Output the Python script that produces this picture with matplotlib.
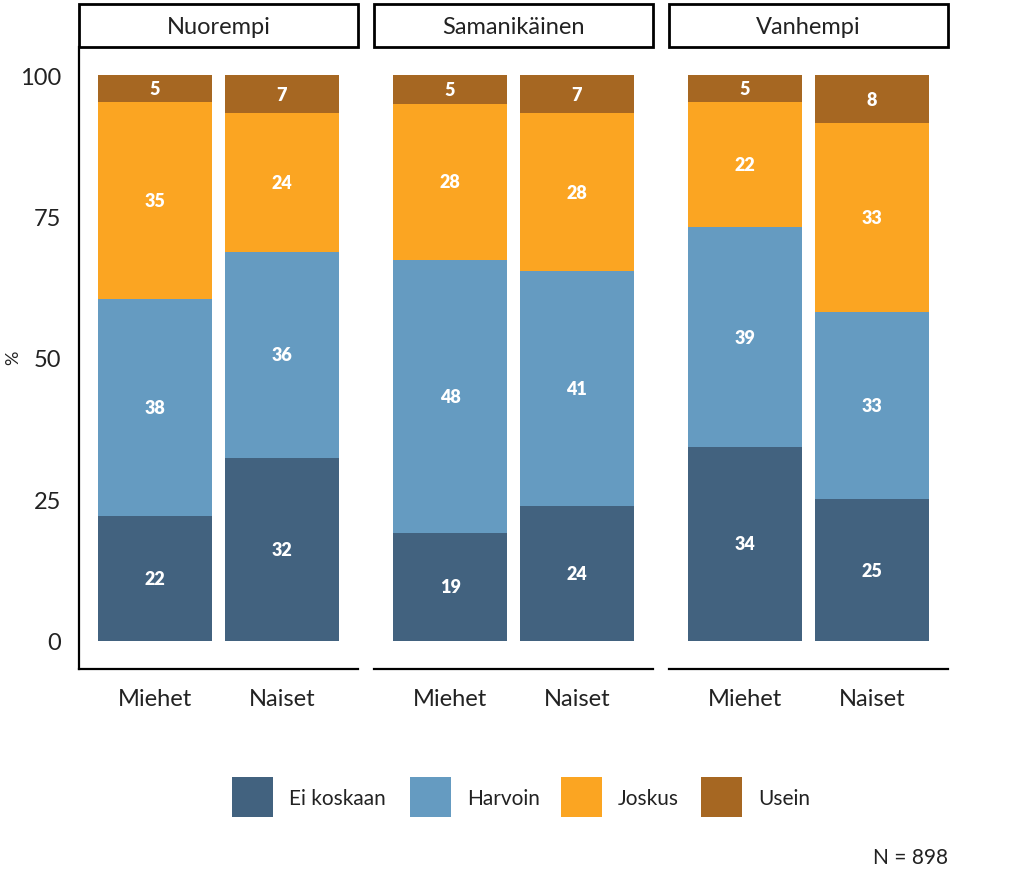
import matplotlib.pyplot as plt
from matplotlib.patches import Rectangle
import numpy as np

plt.rcParams['font.family'] = ['Lato', 'DejaVu Sans']

# Data (share %)
groups = ["Nuorempi", "Samanikäinen", "Vanhempi"]
genders = ["Miehet", "Naiset"]
answers = ["Ei koskaan", "Harvoin", "Joskus", "Usein"]
colors = ["#42627f", "#659bc1", "#fba522", "#a66722"]

ei_koskaan = [[22.1, 32.4], [19.1, 23.9], [34.3, 25.0]]
harvoin = [[38.3, 36.4], [48.3, 41.4], [38.8, 33.2]]
joskus = [[34.8, 24.5], [27.6, 28.0], [22.1, 33.4]]
usein = [[4.8, 6.7], [5.0, 6.7], [4.8, 8.4]]

series = [ei_koskaan, harvoin, joskus, usein]

fig = plt.figure(figsize=(10.24, 8.78), dpi=100)
W, H = 1024, 878

lefts = [79, 374, 669]
pw = 279
bottom_px, top_px = 670, 48

x = np.arange(1, 3)
for g, name in enumerate(groups):
    ax = fig.add_axes([lefts[g] / W, (H - bottom_px) / H, pw / W, (bottom_px - top_px) / H])
    base = np.zeros(2)
    for s, vals in enumerate(series):
        v = np.array(vals[g])
        ax.bar(x, v, width=0.9, bottom=base, color=colors[s], linewidth=0)
        for xi, vi, bi in zip(x, v, base):
            ax.text(xi, bi + vi / 2, f"{vi:.0f}", ha="center", va="center",
                    color="white", fontsize=13, fontweight="heavy")
        base = base + v
    ax.set_xlim(0.4, 2.6)
    ax.set_ylim(-5, 105)
    ax.set_xticks(x)
    ax.set_xticklabels(genders, fontsize=17, color="#222222")
    ax.tick_params(axis="x", length=0, pad=14)
    for sp in ["top", "right"]:
        ax.spines[sp].set_visible(False)
    ax.spines["bottom"].set_linewidth(1.6)
    if g == 0:
        ax.set_yticks([0, 25, 50, 75, 100])
        ax.set_yticklabels(["0", "25", "50", "75", "100"], fontsize=17, color="#222222")
        ax.tick_params(axis="y", length=0, pad=13)
        ax.spines["left"].set_linewidth(1.6)
    else:
        ax.set_yticks([])
        ax.spines["left"].set_visible(False)

    # facet strip
    fig.patches.append(Rectangle((lefts[g] / W, (H - top_px) / H), pw / W, 43 / H,
                                 transform=fig.transFigure, facecolor="white",
                                 edgecolor="black", linewidth=2))
    fig.text((lefts[g] + pw / 2) / W, (H - 27) / H, name, ha="center", va="center",
             fontsize=17, color="#222222")

fig.text(13 / W, (H - 358) / H, "%", rotation=90, ha="center", va="center",
         fontsize=13, color="#222222")

# legend
leg_sq = [232, 410, 561, 701]
for i, lab in enumerate(answers):
    fig.patches.append(Rectangle((leg_sq[i] / W, (H - 818) / H), 41 / W, 40 / H,
                                 transform=fig.transFigure, facecolor=colors[i],
                                 edgecolor="none"))
    fig.text((leg_sq[i] + 57) / W, (H - 799) / H, lab, ha="left", va="center",
             fontsize=15, color="#222222")

fig.text(948 / W, (H - 858) / H, "N = 898", ha="right", va="center",
         fontsize=15, color="#222222")

fig.savefig("out.png", dpi=100, facecolor="white")
